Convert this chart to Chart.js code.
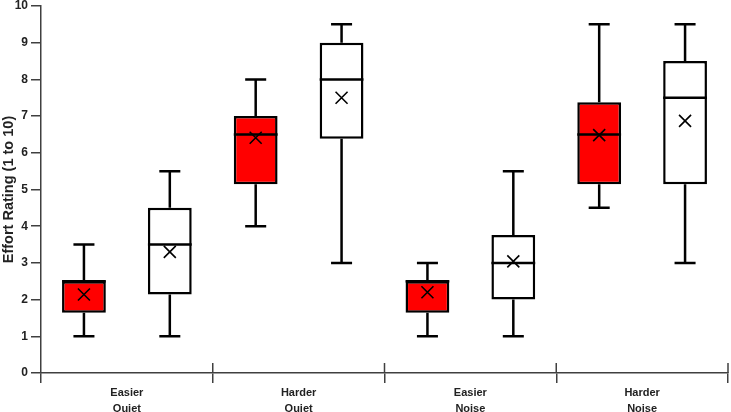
<!DOCTYPE html>
<html>
<head>
<meta charset="utf-8">
<title>Effort Rating</title>
<script src="https://cdn.jsdelivr.net/npm/chart.js@4.4.1/dist/chart.umd.min.js"></script>
<style>
  body { margin: 0; background: #fff; }
  canvas { display: block; }
</style>
</head>
<body>
<canvas id="effortChart" width="731" height="412"></canvas>
<script>
// --- Data ---
const categories = [['Easier', 'Quiet'], ['Harder', 'Quiet'], ['Easier', 'Noise'], ['Harder', 'Noise']];
const yTicks = [0, 1, 2, 3, 4, 5, 6, 7, 8, 9, 10];

const redMin = [1, 4, 1, 4.5];
const redQ1 = [1.64, 5.14, 1.64, 5.14];
const redMedian = [2.5, 6.5, 2.5, 6.5];
const redQ3 = [2.5, 7, 2.5, 7.38];
const redMax = [3.5, 8, 3, 9.5];
const redMean = [2.14, 6.41, 2.2, 6.48];

const whiteMin = [1, 3, 1, 3];
const whiteQ1 = [2.14, 6.38, 2, 5.14];
const whiteMedian = [3.5, 8, 3, 7.5];
const whiteQ3 = [4.5, 9, 3.76, 8.5];
const whiteMax = [5.5, 9.5, 5.5, 9.5];
const whiteMean = [3.3, 7.5, 3.04, 6.87];

const AXIS = '#404040';
const INK = '#000';
const FONT = 'Liberation Sans, Arial, sans-serif';

const series = [
  { min: redMin, q1: redQ1, med: redMedian, q3: redQ3, max: redMax, mean: redMean },
  { min: whiteMin, q1: whiteQ1, med: whiteMedian, q3: whiteQ3, max: whiteMax, mean: whiteMean }
];

// whiskers, medians, means and the upper half of the x ticks
const boxExtras = {
  id: 'boxExtras',
  afterDatasetsDraw(chart) {
    const ctx = chart.ctx;
    const y = chart.scales.y;
    ctx.save();
    ctx.lineCap = 'butt';
    series.forEach((s, d) => {
      const meta = chart.getDatasetMeta(d);
      meta.data.forEach((bar, i) => {
        const cx = bar.x;
        const half = bar.width / 2;
        const cap = bar.width * 0.24;
        const yMax = y.getPixelForValue(s.max[i]);
        const yMin = y.getPixelForValue(s.min[i]);
        const yQ1 = y.getPixelForValue(s.q1[i]);
        const yQ3 = y.getPixelForValue(s.q3[i]);
        const yMed = y.getPixelForValue(s.med[i]);
        ctx.strokeStyle = INK;
        ctx.lineWidth = 2.5;
        ctx.beginPath();
        ctx.moveTo(cx, yMax);
        ctx.lineTo(cx, yQ3);
        ctx.moveTo(cx, yQ1);
        ctx.lineTo(cx, yMin);
        ctx.moveTo(cx - cap, yMax);
        ctx.lineTo(cx + cap, yMax);
        ctx.moveTo(cx - cap, yMin);
        ctx.lineTo(cx + cap, yMin);
        ctx.moveTo(cx - half, yMed);
        ctx.lineTo(cx + half, yMed);
        ctx.stroke();

        // mean marker
        const my = y.getPixelForValue(s.mean[i]);
        const m = 6;
        ctx.lineWidth = 1.6;
        ctx.beginPath();
        ctx.moveTo(cx - m, my - m);
        ctx.lineTo(cx + m, my + m);
        ctx.moveTo(cx - m, my + m);
        ctx.lineTo(cx + m, my - m);
        ctx.stroke();
      });
    });

    // x ticks cross the axis
    const x = chart.scales.x;
    const step = x.getPixelForValue(1) - x.getPixelForValue(0);
    const bottom = chart.chartArea.bottom;
    ctx.strokeStyle = AXIS;
    ctx.lineWidth = 1.5;
    ctx.beginPath();
    for (let i = 1; i <= categories.length; i++) {
      const px = x.getPixelForValue(0) - step / 2 + i * step;
      ctx.moveTo(px, bottom - 10);
      ctx.lineTo(px, bottom);
    }
    ctx.stroke();
    ctx.restore();
  }
};

new Chart(document.getElementById('effortChart'), {
  type: 'bar',
  data: {
    labels: categories,
    datasets: [
      {
        data: redQ1.map((q, i) => [q, redQ3[i]]),
        backgroundColor: '#ff0000',
        borderColor: INK,
        borderWidth: 2.5,
        borderSkipped: false
      },
      {
        data: whiteQ1.map((q, i) => [q, whiteQ3[i]]),
        backgroundColor: '#ffffff',
        borderColor: INK,
        borderWidth: 2.5,
        borderSkipped: false
      }
    ]
  },
  options: {
    responsive: false,
    animation: false,
    layout: { padding: { top: 6, right: 3 } },
    plugins: { legend: { display: false }, tooltip: { enabled: false } },
    datasets: { bar: { categoryPercentage: 1.0, barPercentage: 0.51 } },
    scales: {
      x: {
        offset: true,
        afterFit: (scale) => { scale.height = 39; },
        grid: { offset: true, drawOnChartArea: false, drawTicks: true, tickLength: 10, color: AXIS, lineWidth: 1.5 },
        border: { display: true, color: AXIS, width: 1.5 },
        ticks: { color: '#222', padding: 2, font: { family: FONT, size: 11, weight: 'bold', lineHeight: 1.45 } }
      },
      y: {
        min: yTicks[0],
        max: yTicks[yTicks.length - 1],
        afterFit: (scale) => {
          scale.width = 41;
          scale.paddingTop = 0;
          scale.paddingBottom = 0;
        },
        afterBuildTicks: (scale) => { scale.ticks = yTicks.map(v => ({ value: v })); },
        grid: { drawOnChartArea: false, drawTicks: true, tickLength: 10, color: AXIS, lineWidth: 1.5 },
        border: { display: true, color: AXIS, width: 1.5 },
        ticks: { color: '#222', padding: 3, font: { family: FONT, size: 12, weight: 'bold' } },
        title: {
          display: true,
          text: 'Effort Rating (1 to 10)',
          color: '#222',
          padding: { top: 0, bottom: 0 },
          font: { family: FONT, size: 14.5, weight: 'bold' }
        }
      }
    }
  },
  plugins: [boxExtras]
});
</script>
</body>
</html>
